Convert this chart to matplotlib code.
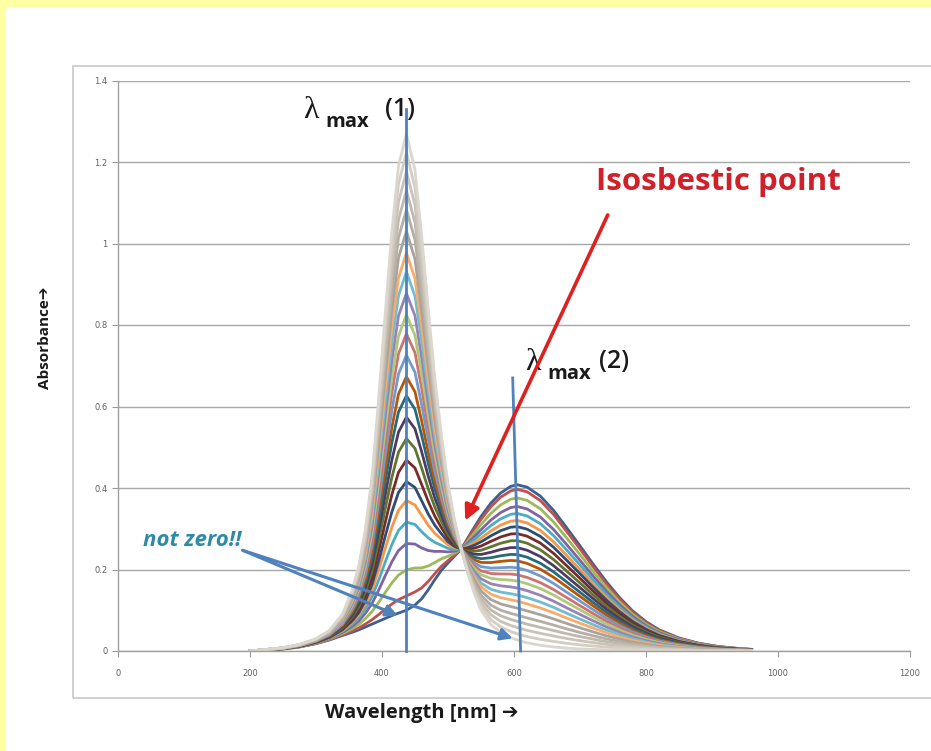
import matplotlib
matplotlib.use("Agg")
import matplotlib.pyplot as plt
from matplotlib.patches import Rectangle
import numpy as np

# ---------------- data ----------------
wavelength = [200, 225, 250, 275, 300, 320, 340, 355, 365, 375, 385, 395, 405, 415, 425, 437,
              450, 460, 470, 480, 490, 500, 510, 520, 530, 540, 550, 565, 580, 595, 605, 620,
              640, 660, 680, 700, 720, 740, 760, 780, 800, 820, 850, 880, 910, 935, 960]

# pure species 1 (lambda max ~437 nm)
absorb_species1 = [0.000, 0.004, 0.008, 0.016, 0.030, 0.050, 0.090, 0.150, 0.210, 0.300, 0.430,
                   0.620, 0.830, 1.030, 1.190, 1.270, 1.180, 1.020, 0.840, 0.670, 0.530, 0.410,
                   0.320, 0.250, 0.190, 0.140, 0.100, 0.065, 0.045, 0.033, 0.027, 0.020, 0.014,
                   0.010, 0.007, 0.005, 0.004, 0.003, 0.003, 0.002, 0.002, 0.001, 0.001, 0.000,
                   0.000, 0.000, 0.000]

# pure species 2 (lambda max ~605 nm)
absorb_species2 = [0.000, 0.002, 0.005, 0.010, 0.018, 0.027, 0.038, 0.046, 0.052, 0.059, 0.066,
                   0.073, 0.080, 0.087, 0.093, 0.100, 0.113, 0.128, 0.150, 0.175, 0.198, 0.216,
                   0.233, 0.250, 0.277, 0.304, 0.330, 0.363, 0.388, 0.404, 0.408, 0.402, 0.380,
                   0.345, 0.302, 0.258, 0.213, 0.170, 0.131, 0.098, 0.072, 0.052, 0.032, 0.019,
                   0.011, 0.007, 0.004]

# fraction of species 1 in each recorded spectrum
fractions = [0.0, 0.03, 0.085, 0.14, 0.185, 0.23, 0.27, 0.315, 0.36, 0.405, 0.45, 0.49,
             0.535, 0.58, 0.62, 0.665, 0.71, 0.75, 0.795, 0.84, 0.88, 0.92, 0.96, 1.0]

series_colors = ['#3F5F8F', '#C0504D', '#9BBB59', '#8064A2', '#4BACC6', '#F79646',
                 '#2C4D75', '#772C2A', '#5F7530', '#4D3B62', '#276A7C', '#B65708',
                 '#729ACA', '#CD7371', '#AFC97A', '#9983B5', '#6FBDD1', '#F9AB6B',
                 '#A9A39B', '#B5AEA4', '#C0B9AE', '#CAC3B8', '#D3CDC3', '#DBD6CE']

y_ticks = [0, 0.2, 0.4, 0.6, 0.8, 1.0, 1.2, 1.4]
y_tick_labels = ['0', '0.2', '0.4', '0.6', '0.8', '1', '1.2', '1.4']
x_ticks = [0, 200, 400, 600, 800, 1000, 1200]
x_tick_labels = ['0', '200', '400', '600', '800', '1000', '1200']

lambda1_line_x = [437, 437]
lambda1_line_y = [0, 1.33]
lambda2_line_x = [598, 610]
lambda2_line_y = [0.67, 0.0]

# ---------------- figure ----------------
W, H = 931, 751
fig = plt.figure(figsize=(W / 100, H / 100), dpi=100, facecolor='white')

FAM = ['Open Sans', 'DejaVu Sans']
SERIF = ['Liberation Serif', 'DejaVu Serif']

# yellow slide border
fig.patches.append(Rectangle((0, 1 - 7 / H), 1, 7 / H, transform=fig.transFigure,
                             facecolor='#FFFFA3', edgecolor='none', zorder=0))
fig.patches.append(Rectangle((0, 0), 6 / W, 1, transform=fig.transFigure,
                             facecolor='#FFFFA3', edgecolor='none', zorder=0))
# chart frame
fig.patches.append(Rectangle((73 / W, 1 - 698 / H), 1.0, (698 - 66) / H, transform=fig.transFigure,
                             facecolor='none', edgecolor='#C8C8C8', lw=1.2, zorder=0))

ax = fig.add_axes([118 / W, 1 - 651 / H, (910 - 118) / W, (651 - 80.5) / H])
ax.set_facecolor('none')

s1 = np.array(absorb_species1)
s2 = np.array(absorb_species2)
for f, c in zip(fractions, series_colors):
    ax.plot(wavelength, f * s1 + (1 - f) * s2, color=c, lw=2.0, zorder=2,
            solid_joinstyle='round')

ax.set_xlim(0, 1200)
ax.set_ylim(0, 1.4)
ax.set_yticks(y_ticks)
ax.set_yticklabels(y_tick_labels)
ax.set_xticks(x_ticks)
ax.set_xticklabels(x_tick_labels)
ax.tick_params(axis='both', labelsize=6, colors='#9A9A9A', labelcolor='#606060', length=4, width=0.8)
ax.tick_params(axis='x', pad=9)
ax.grid(axis='y', color='#A8A8A8', lw=1.0)
ax.set_axisbelow(True)
for s in ['top', 'right']:
    ax.spines[s].set_visible(False)
for s in ['left', 'bottom']:
    ax.spines[s].set_color('#A0A0A0')
    ax.spines[s].set_linewidth(1.0)

# lambda max lines
ax.plot(lambda1_line_x, lambda1_line_y, color='#4F81BD', lw=2.0, zorder=5, clip_on=False)
ax.plot(lambda2_line_x, lambda2_line_y, color='#4F81BD', lw=2.0, zorder=5, clip_on=False)

TXT = '#1a1a1a'
# lambda max (1)
ax.text(280, 1.326, '\u03bb', fontsize=23, color=TXT, va='center', ha='left',
        zorder=6, family=SERIF)
ax.text(314, 1.298, 'max', fontsize=14.5, fontweight='bold', color=TXT, va='center', ha='left',
        zorder=6, family=FAM)
ax.text(404, 1.328, '(1)', fontsize=18, fontweight='semibold', color=TXT, va='center', ha='left',
        zorder=6, family=FAM)
# lambda max (2)
ax.text(617, 0.708, '\u03bb', fontsize=23, color=TXT, va='center', ha='left',
        zorder=6, family=SERIF)
ax.text(651, 0.680, 'max', fontsize=14.5, fontweight='bold', color=TXT, va='center', ha='left',
        zorder=6, family=FAM)
ax.text(729, 0.710, '(2)', fontsize=18, fontweight='semibold', color=TXT, va='center', ha='left',
        zorder=6, family=FAM)

ax.text(724, 1.15, 'Isosbestic point', fontsize=22.5, fontweight='bold', color='#D0202A',
        va='center', ha='left', zorder=6, family=FAM)
ax.annotate('', xy=(526, 0.32), xytext=(742, 1.07),
            arrowprops=dict(arrowstyle='-|>,head_length=0.9,head_width=0.45', color='#E0201F',
                            lw=2.6, shrinkA=0, shrinkB=0), zorder=7)

ax.text(38, 0.272, 'not zero!!', fontsize=16, fontweight='bold', style='italic', color='#2E8AA6',
        va='center', ha='left', zorder=6, family=FAM)
for tx, ty in [(424, 0.087), (598, 0.031)]:
    ax.annotate('', xy=(tx, ty), xytext=(189, 0.247),
                arrowprops=dict(arrowstyle='-|>,head_length=0.7,head_width=0.35', color='#4F81BD',
                                lw=2.2, shrinkA=0, shrinkB=0), zorder=7)

fig.text(45 / W, 1 - 338 / H, 'Absorbance\u2794', rotation=90, fontsize=11, fontweight='bold',
         ha='center', va='center', family=FAM, color=TXT)
fig.text(422 / W, 1 - 713 / H, 'Wavelength [nm] \u2794', fontsize=14.5, fontweight='bold',
         ha='center', va='center', family=FAM, color=TXT)

fig.savefig('out.png', dpi=100, facecolor='white')
